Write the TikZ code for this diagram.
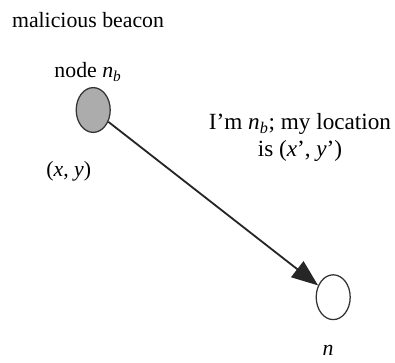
\documentclass[tikz,border=0pt]{standalone}
\usepackage{fontspec}
\setmainfont{Liberation Serif}
\usetikzlibrary{positioning, arrows.meta, shapes.geometric}
\tikzset{
    >={Triangle[length=0.66cm, width=0.5cm]}, % big filled head
    beacon/.style={ellipse, draw=black!80, line width=0.9pt, minimum width=0.85cm, minimum height=1.12cm, inner sep=0pt},
    label text/.style={font=\fontsize{15.5}{19}\selectfont, align=center, inner sep=1pt}
}
\newcommand{\nb}{\textit{n}\textsubscript{\textit{b}}}
\begin{document}
\begin{tikzpicture}[every node/.style={label text}]
    \useasboundingbox (0,0) rectangle (9.875,9.05);
    \node[beacon, fill=gray!65] (nb) at (2.33,6.3) {};
    \node[beacon, fill=white] (ni) at (8.33,1.62) {};

    \node (name) at (2.2,7.25) {node \nb};
    \node (title) [above=1.3cm of name.center, anchor=center] {malicious beacon};
    \node (pos) at (1.72,4.78) {(\textit{x}, \textit{y})};
    \node (msg) at (7.5,5.62) {\fontsize{16.5}{19}\selectfont I'm \nb; my location\\\fontsize{16.5}{19}\selectfont is (\textit{x}', \textit{y}')};
    \node (ni label) at (8.2,0.28) {\textit{n}};

    \draw[->, line width=1.3pt, black!85] (nb) -- (ni);
\end{tikzpicture}
\end{document}
